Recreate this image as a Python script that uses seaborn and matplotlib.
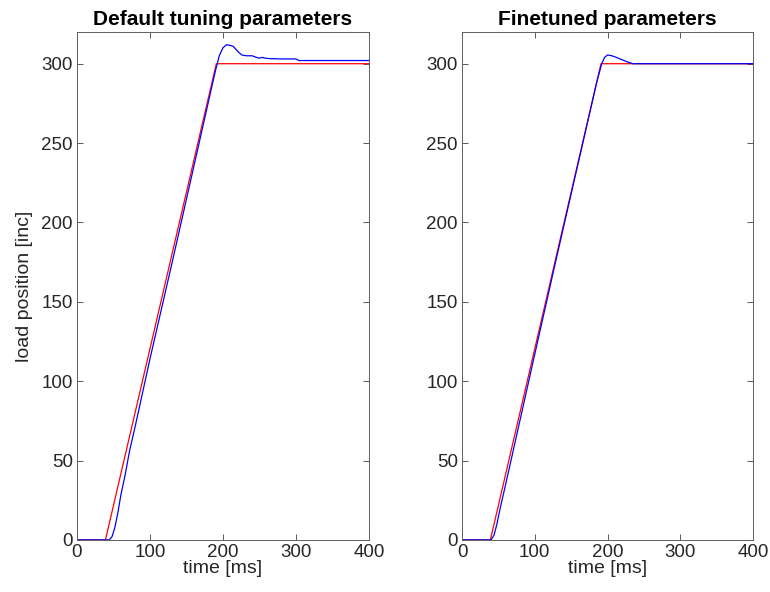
import pandas as pd
import matplotlib
matplotlib.use("Agg")
import matplotlib.pyplot as plt
import seaborn as sns

# reference trajectory (same for both runs)
ref_time = [0, 39, 191, 400]
ref_pos = [0, 0, 300, 300]

# measured load position, default tuning
default_time = [0, 44, 48, 52, 56, 60, 66, 72, 80, 100, 130, 160, 185, 190, 195, 200, 205, 210, 214, 218, 222,
                226, 232, 240, 246, 250, 254, 258, 264, 280, 300, 304, 330, 400]
default_pos = [0, 0, 2, 8, 17, 28, 41, 56, 72, 114, 174, 235, 286, 296, 305, 310, 312, 311.5, 311, 309, 307,
               305.5, 305, 305, 304, 303.5, 304, 303.5, 303.2, 303, 303, 302, 302, 302]

# measured load position, finetuned
tuned_time = [0, 40, 44, 48, 52, 60, 80, 100, 130, 160, 185, 192, 196, 200, 206, 212, 220, 228, 235, 400]
tuned_pos = [0, 0, 3, 10, 19, 35, 76, 117, 178, 238, 288, 300, 304, 305.5, 305, 304, 302.5, 301, 300, 300]

sns.set_style("ticks")
plt.rcParams["font.family"] = ["Liberation Sans", "DejaVu Sans"]

fig = plt.figure(figsize=(7.7, 5.92), dpi=100)
ax1 = fig.add_axes([0.1, 0.088, 0.379, 0.858])
ax2 = fig.add_axes([0.6, 0.088, 0.378, 0.858])

panels = [
    (ax1, default_time, default_pos, "Default tuning parameters"),
    (ax2, tuned_time, tuned_pos, "Finetuned parameters"),
]

for ax, t, p, title in panels:
    ref_df = pd.DataFrame({"time": ref_time, "pos": ref_pos})
    meas_df = pd.DataFrame({"time": t, "pos": p})
    sns.lineplot(data=ref_df, x="time", y="pos", ax=ax, color="#ff0000", linewidth=0.9)
    sns.lineplot(data=meas_df, x="time", y="pos", ax=ax, color="#0000ff", linewidth=0.9)
    ax.set_xlim(0, 400)
    ax.set_ylim(0, 320)
    ax.set_xticks([0, 100, 200, 300, 400])
    ax.set_yticks([0, 50, 100, 150, 200, 250, 300])
    ax.tick_params(direction="in", top=True, right=True, labelsize=13.5, length=4,
                   color="#404040", labelcolor="#262626", width=0.6, pad=3)
    for s in ax.spines.values():
        s.set_visible(True)
        s.set_color("#606060")
        s.set_linewidth(0.7)
    ax.set_title(title, fontsize=15, fontweight="bold", pad=5, color="#000000")
    ax.set_xlabel("time [ms]", fontsize=14, labelpad=-1, color="#262626")
    ax.set_ylabel("")

ax1.set_ylabel("load position [inc]", fontsize=14, labelpad=6, color="#262626")

fig.savefig("out.png", dpi=100)
